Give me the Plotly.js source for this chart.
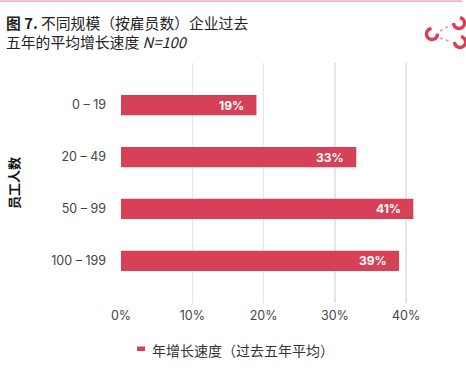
<!DOCTYPE html>
<html><head><meta charset="utf-8">
<script src="https://cdn.plot.ly/plotly-3.0.1.min.js"></script>
<style>html,body{margin:0;padding:0;background:#fff}#c{width:466px;height:368px}</style>
</head><body><div id="c"></div>
<script>
const categories = ['0 – 19', '20 – 49', '50 – 99', '100 – 199'];
const growth = [19, 33, 41, 39];
const labels = ['19%', '33%', '41%', '39%'];
const tickVals = [0, 10, 20, 30, 40];
const tickText = ['0%', '10%', '20%', '30%', '40%'];
const seriesName = '年增长速度（过去五年平均）';
const titleLine1 = '<b>图 7.</b> 不同规模（按雇员数）企业过去';
const titleLine2 = '五年的平均增长速度 <i>N=100</i>';
const yTitle = '员工人数';

const red = '#d64157';
const cjk = '"Noto Sans CJK SC", "Noto Sans", sans-serif';
const latin = 'Inter, "Noto Sans", sans-serif';

// plot frame in pixels
const L = 121, T = 63, W = 300, H = 240;
const px = x => (x - L) / W;
const py = y => (T + H - y) / H;

const trace = {
  type: 'bar', orientation: 'h',
  y: categories, x: growth, name: seriesName,
  marker: {color: red}, width: 0.39,
  showlegend: false, hoverinfo: 'skip'
};

const annotations = growth.map((v, i) => ({
  x: v, y: categories[i], xref: 'x', yref: 'y',
  text: '<b>' + labels[i] + '</b>', showarrow: false,
  xanchor: 'right', xshift: -10,
  font: {family: latin, size: 12, color: '#fff'}
}));
annotations.push(
  {xref: 'paper', yref: 'paper', x: px(4), y: py(32.5), xanchor: 'left', yanchor: 'middle', showarrow: false,
   align: 'left', text: titleLine1 + '<br>' + titleLine2, font: {family: cjk, size: 14.8, color: '#222'}},
  {xref: 'paper', yref: 'paper', x: px(150), y: py(350), xanchor: 'left', yanchor: 'middle', showarrow: false,
   text: seriesName, font: {family: cjk, size: 14, color: '#333'}}
);

const arc = (cx, cy, r, a0, a1) => {
  const p = [];
  for (let k = 0; k <= 16; k++) {
    const a = (a0 + (a1 - a0) * k / 16) * Math.PI / 180;
    p.push((k ? 'L' : 'M') + (r * Math.cos(a)).toFixed(2) + ',' + (-r * Math.sin(a)).toFixed(2));
  }
  return p.join(' ');
};
const logoShapes = [
  {cx: 432, cy: 34, a0: -5, a1: 265},
  {cx: 459, cy: 23, a0: -80, a1: 180},
  {cx: 460, cy: 42, a0: -80, a1: 180}
].map(o => ({type: 'path', xref: 'paper', yref: 'paper', xsizemode: 'pixel', ysizemode: 'pixel',
  xanchor: px(o.cx), yanchor: py(o.cy), path: arc(0, 0, 5.5, o.a0, o.a1),
  line: {color: red, width: 3.4}}));
const dashShapes = [
  {x0: 440, y0: 31, x1: 451, y1: 25},
  {x0: 440, y0: 38, x1: 451, y1: 42}
].map(o => ({type: 'line', xref: 'paper', yref: 'paper', x0: px(o.x0), y0: py(o.y0), x1: px(o.x1), y1: py(o.y1),
  line: {color: '#ee93aa', width: 1.5, dash: 'dot'}}));

const shapes = [
  {type: 'line', xref: 'paper', yref: 'paper', x0: px(0), x1: px(462), y0: py(1.2), y1: py(1.2),
   line: {color: '#ec93ae', width: 1.3}},
  {type: 'rect', xref: 'paper', yref: 'paper', x0: px(137), x1: px(145), y0: py(346.5), y1: py(351),
   fillcolor: red, line: {width: 0}}
].concat(logoShapes, dashShapes);

const layout = {
  width: 466, height: 368,
  margin: {l: L, r: 466 - L - W, t: T, b: 368 - T - H},
  paper_bgcolor: '#fff', plot_bgcolor: '#fff',
  font: {family: cjk, color: '#444'},
  showlegend: false,
  xaxis: {
    range: [0, 42.08], tickvals: tickVals, ticktext: tickText,
    showgrid: true, gridcolor: '#e6e6e6', gridwidth: 1.5, zeroline: false,
    showline: false, ticks: '', tickfont: {size: 12.5, color: '#444', family: latin},
    ticklabelstandoff: 3, fixedrange: true
  },
  yaxis: {
    range: [3.81, -0.81], type: 'category',
    showgrid: false, zeroline: false, showline: false, ticks: '',
    ticklabelstandoff: 14,
    tickfont: {size: 12.5, color: '#444', family: latin},
    title: {text: '<b>' + yTitle + '</b>', font: {size: 13, color: '#111', family: cjk}, standoff: 28}
  },
  annotations: annotations,
  shapes: shapes
};
Plotly.newPlot('c', [trace], layout, {displayModeBar: false, staticPlot: true});
</script>
</body></html>
